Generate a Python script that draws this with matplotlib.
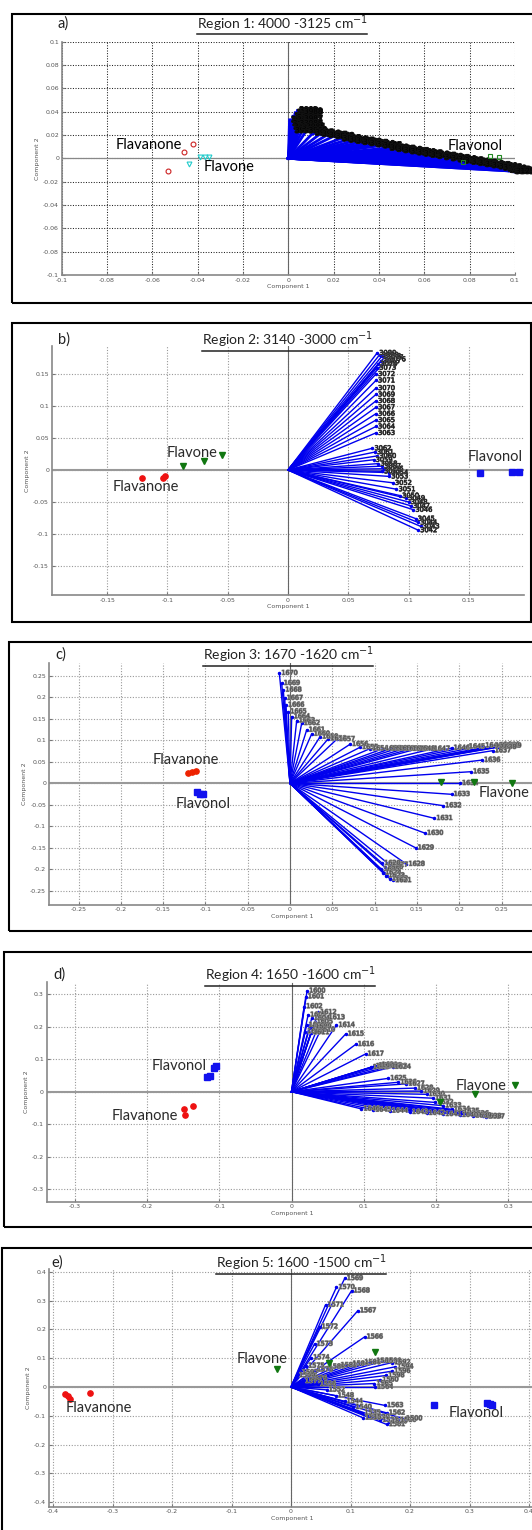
import matplotlib
matplotlib.use('Agg')
import matplotlib.pyplot as plt
import matplotlib.patheffects as pe
from matplotlib.patches import Rectangle
from matplotlib.lines import Line2D

W, H = 532, 1530

# ---------------- panel a : Region 1 ----------------
a_title = 'Region 1: 4000 -3125 cm$^{-1}$'
a_ticks = [-0.1, -0.08, -0.06, -0.04, -0.02, 0, 0.02, 0.04, 0.06, 0.08, 0.1]
a_ticklabels = ['-0.1', '-0.08', '-0.06', '-0.04', '-0.02', '0', '0.02', '0.04', '0.06', '0.08', '0.1']
a_flavanone_x = [-0.042, -0.046, -0.053]
a_flavanone_y = [0.012, 0.005, -0.011]
a_flavone_x = [-0.0437, -0.0389, -0.0369, -0.0351]
a_flavone_y = [-0.005, 0.001, 0.001, 0.001]
a_flavonol_x = [0.077, 0.089, 0.093]
a_flavonol_y = [-0.0034, 0.002, 0.0015]
a_load_x = [0.0005, 0.001, 0.0015, 0.002, 0.002, 0.003, 0.003, 0.004, 0.004, 0.005, 0.005, 0.006, 0.006, 0.006, 0.007,
            0.008, 0.011, 0.014, 0.017, 0.020, 0.023, 0.026, 0.029, 0.032, 0.035, 0.038, 0.041, 0.044, 0.047, 0.050,
            0.053, 0.056, 0.059, 0.062, 0.065, 0.068, 0.071, 0.074, 0.077, 0.080, 0.083, 0.086, 0.089, 0.092, 0.094,
            0.096, 0.097, 0.098, 0.099, 0.0995]
a_load_y = [0.033, 0.030, 0.027, 0.036, 0.024, 0.039, 0.033, 0.041, 0.030, 0.037, 0.027, 0.040, 0.034, 0.030, 0.027,
            0.024, 0.022, 0.021, 0.020, 0.019, 0.017, 0.016, 0.015, 0.014, 0.013, 0.012, 0.011, 0.009, 0.008, 0.007,
            0.006, 0.005, 0.004, 0.003, 0.002, 0.001, 0.000, -0.001, -0.002, -0.003, -0.004, -0.005, -0.006, -0.007, -0.008,
            -0.009, -0.010, -0.010, -0.011, -0.011]
a_load_lab = [3999, 3998, 3997, 3996, 3995, 3994, 3993, 3992, 3991, 3990, 3989, 3988, 3987, 3986, 3985,
              3960, 3935, 3910, 3885, 3860, 3835, 3810, 3785, 3760, 3735, 3710, 3685, 3660, 3635, 3610,
              3585, 3560, 3535, 3510, 3485, 3460, 3435, 3410, 3385, 3360, 3335, 3310, 3285, 3260, 3235,
              3210, 3185, 3160, 3140, 3125]
a_names = ['Flavanone', 'Flavone', 'Flavonol']
a_names_x = [-0.0615, -0.0262, 0.0824]
a_names_y = [0.0114, -0.0072, 0.0108]

# ---------------- panel b : Region 2 ----------------
b_title = 'Region 2: 3140 -3000 cm$^{-1}$'
b_ticks = [-0.15, -0.1, -0.05, 0, 0.05, 0.1, 0.15]
b_ticklabels = ['-0.15', '-0.1', '-0.05', '0', '0.05', '0.1', '0.15']
b_flavanone_x = [-0.121, -0.104, -0.102]
b_flavanone_y = [-0.013, -0.012, -0.009]
b_flavone_x = [-0.0874, -0.0698, -0.055]
b_flavone_y = [0.0067, 0.014, 0.023]
b_flavonol_x = [0.1597, 0.1855, 0.1916]
b_flavonol_y = [-0.005, -0.0026, -0.0026]
b_load_x = [0.074, 0.076, 0.078, 0.080, 0.082, 0.077, 0.075, 0.074,
            0.073, 0.073, 0.073, 0.073, 0.073, 0.073, 0.073, 0.073, 0.073, 0.073,
            0.070, 0.072, 0.074, 0.071, 0.075, 0.078, 0.080, 0.078, 0.084,
            0.084, 0.087, 0.090, 0.093, 0.098, 0.100, 0.102, 0.104, 0.106, 0.108, 0.110, 0.108]
b_load_y = [0.183, 0.180, 0.178, 0.176, 0.173, 0.170, 0.166, 0.160,
            0.150, 0.140, 0.128, 0.118, 0.108, 0.098, 0.088, 0.078, 0.068, 0.058,
            0.034, 0.028, 0.022, 0.016, 0.010, 0.006, 0.002, -0.002, -0.004,
            -0.010, -0.020, -0.030, -0.040, -0.044, -0.050, -0.056, -0.062, -0.076, -0.082, -0.088, -0.094]
b_load_lab = [3080, 3079, 3078, 3077, 3076, 3075, 3074, 3073,
              3072, 3071, 3070, 3069, 3068, 3067, 3066, 3065, 3064, 3063,
              3062, 3061, 3060, 3059, 3058, 3057, 3056, 3055, 3054,
              3053, 3052, 3051, 3050, 3049, 3048, 3047, 3046, 3045, 3044, 3043, 3042]
b_names = ['Flavone', 'Flavanone', 'Flavonol']
b_names_x = [-0.0796, -0.118, 0.1715]
b_names_y = [0.027, -0.026, 0.020]

# ---------------- panel c : Region 3 ----------------
c_title = 'Region 3: 1670 -1620 cm$^{-1}$'
c_ticks = [-0.25, -0.2, -0.15, -0.1, -0.05, 0, 0.05, 0.1, 0.15, 0.2, 0.25]
c_ticklabels = ['-0.25', '-0.2', '-0.15', '-0.1', '-0.05', '0', '0.05', '0.1', '0.15', '0.2', '0.25']
c_flavanone_x = [-0.121, -0.116, -0.111]
c_flavanone_y = [0.024, 0.026, 0.028]
c_flavone_x = [0.179, 0.218, 0.262]
c_flavone_y = [0.004, 0.004, 0.0]
c_flavonol_x = [-0.110, -0.106, -0.103]
c_flavonol_y = [-0.021, -0.024, -0.026]
c_load_x = [-0.0126, -0.0098, -0.0079, -0.0063, -0.0047, -0.002, 0.002, 0.0079, 0.0138, 0.0197,
            0.0256, 0.0355, 0.0453, 0.0552, 0.0709, 0.0827, 0.0946, 0.110, 0.118, 0.126,
            0.134, 0.142, 0.150, 0.1675, 0.191, 0.209, 0.2285, 0.240, 0.245, 0.248,
            0.250, 0.252, 0.246, 0.2396, 0.227, 0.214, 0.201, 0.191, 0.181, 0.1706,
            0.1596, 0.1485, 0.1377, 0.118, 0.112, 0.108, 0.110, 0.114, 0.118, 0.122, 0.109]
c_load_y = [0.256, 0.2326, 0.217, 0.198, 0.182, 0.1666, 0.155, 0.1457, 0.1395, 0.124,
            0.1147, 0.108, 0.1038, 0.1023, 0.0907, 0.0837, 0.0806, 0.0806, 0.080, 0.0806,
            0.080, 0.0798, 0.080, 0.0798, 0.082, 0.085, 0.0875, 0.087, 0.088, 0.0868,
            0.089, 0.087, 0.084, 0.0759, 0.054, 0.027, 0.0, -0.0256, -0.052, -0.0814,
            -0.116, -0.150, -0.188, -0.190, -0.195, -0.200, -0.208, -0.215, -0.222, -0.226, -0.186]
c_load_lab = [1670, 1669, 1668, 1667, 1666, 1665, 1664, 1663, 1662, 1661,
              1660, 1659, 1658, 1657, 1656, 1655, 1654, 1653, 1652, 1651,
              1650, 1649, 1648, 1647, 1646, 1645, 1644, 1643, 1642, 1641,
              1640, 1639, 1638, 1637, 1636, 1635, 1634, 1633, 1632, 1631,
              1630, 1629, 1628, 1627, 1626, 1625, 1624, 1623, 1622, 1621, 1620]
c_names = ['Flavanone', 'Flavonol', 'Flavone']
c_names_x = [-0.1235, -0.103, 0.253]
c_names_y = [0.054, -0.048, -0.023]

# ---------------- panel d : Region 4 ----------------
d_title = 'Region 4: 1650 -1600 cm$^{-1}$'
d_ticks = [-0.3, -0.2, -0.1, 0, 0.1, 0.2, 0.3]
d_ticklabels = ['-0.3', '-0.2', '-0.1', '0', '0.1', '0.2', '0.3']
d_flavanone_x = [-0.137, -0.149, -0.147]
d_flavanone_y = [-0.044, -0.053, -0.072]
d_flavone_x = [0.2053, 0.254, 0.309]
d_flavone_y = [-0.031, -0.008, 0.021]
d_flavonol_x = [-0.117, -0.113, -0.108, -0.105]
d_flavonol_y = [0.046, 0.047, 0.072, 0.078]
d_load_x = [0.0216, 0.0198, 0.0175, 0.023, 0.028, 0.032, 0.021, 0.025, 0.019, 0.030, 0.035, 0.027,
            0.037, 0.0485, 0.0623, 0.075, 0.089, 0.1025,
            0.110, 0.114, 0.118, 0.122, 0.128, 0.135, 0.140,
            0.134, 0.148, 0.159, 0.171, 0.180, 0.187, 0.196, 0.199, 0.210, 0.222, 0.235, 0.248,
            0.270, 0.2655, 0.2516, 0.233, 0.210, 0.187, 0.164, 0.136, 0.113, 0.0969]
d_load_y = [0.310, 0.2925, 0.262, 0.236, 0.226, 0.215, 0.205, 0.195, 0.185, 0.200, 0.190, 0.182,
            0.244, 0.228, 0.205, 0.1775, 0.1457, 0.116,
            0.075, 0.078, 0.080, 0.082, 0.080, 0.078, 0.076,
            0.041, 0.029, 0.024, 0.011, 0.002, -0.008, -0.020, -0.033, -0.043, -0.054, -0.060, -0.068,
            -0.077, -0.076, -0.074, -0.072, -0.0695, -0.066, -0.063, -0.059, -0.056, -0.053]
d_load_lab = [1600, 1601, 1602, 1603, 1604, 1605, 1606, 1607, 1608, 1609, 1610, 1611,
              1612, 1613, 1614, 1615, 1616, 1617,
              1618, 1619, 1620, 1621, 1622, 1623, 1624,
              1625, 1626, 1627, 1628, 1629, 1630, 1631, 1632, 1633, 1634, 1635, 1636,
              1637, 1638, 1639, 1640, 1641, 1642, 1643, 1644, 1645, 1646]
d_names = ['Flavonol', 'Flavanone', 'Flavone']
d_names_x = [-0.156, -0.203, 0.263]
d_names_y = [0.079, -0.074, 0.018]

# ---------------- panel e : Region 5 ----------------
e_title = 'Region 5: 1600 -1500 cm$^{-1}$'
e_ticks = [-0.4, -0.3, -0.2, -0.1, 0, 0.1, 0.2, 0.3, 0.4]
e_ticklabels = ['-0.4', '-0.3', '-0.2', '-0.1', '0', '0.1', '0.2', '0.3', '0.4']
e_flavanone_x = [-0.379, -0.375, -0.372, -0.337]
e_flavanone_y = [-0.025, -0.031, -0.043, -0.020]
e_flavone_x = [-0.024, 0.141, 0.064]
e_flavone_y = [0.061, 0.122, 0.085]
e_flavonol_x = [0.24, 0.329, 0.334, 0.338]
e_flavonol_y = [-0.0625, -0.054, -0.058, -0.0625]
e_load_x = [0.0903, 0.0763, 0.1017, 0.058, 0.1124, 0.048, 0.1237, 0.0395, 0.0339, 0.0254,
            0.04, 0.06, 0.08, 0.10, 0.12, 0.14, 0.155, 0.17, 0.175, 0.17, 0.16, 0.15, 0.14, 0.141,
            0.158, 0.161, 0.161, 0.121,
            0.01, 0.015, 0.02, 0.03, 0.045, 0.06, 0.075, 0.09, 0.105, 0.12, 0.135, 0.15, 0.165, 0.18, 0.19]
e_load_y = [0.377, 0.346, 0.334, 0.285, 0.265, 0.209, 0.174, 0.149, 0.102, 0.073,
            0.06, 0.07, 0.075, 0.08, 0.085, 0.09, 0.09, 0.085, 0.07, 0.055, 0.04, 0.025, 0.012, 0.0,
            -0.064, -0.09, -0.13, -0.107,
            0.04, 0.05, 0.02, 0.03, 0.01, -0.01, -0.03, -0.05, -0.07, -0.09, -0.105, -0.115, -0.12, -0.115, -0.11]
e_load_lab = [1569, 1570, 1568, 1571, 1567, 1572, 1566, 1573, 1574, 1575,
              1578, 1580, 1582, 1584, 1586, 1588, 1590, 1592, 1594, 1596, 1598, 1560, 1565, 1564,
              1563, 1562, 1561, 1558,
              1599, 1597, 1577, 1576, 1556, 1552, 1548, 1544, 1540, 1535, 1530, 1525, 1520, 1510, 1500]
e_names = ['Flavanone', 'Flavone', 'Flavonol']
e_names_x = [-0.323, -0.049, 0.311]
e_names_y = [-0.072, 0.096, -0.089]

fig = plt.figure(figsize=(W / 100, H / 100), dpi=100)
fig.patch.set_facecolor('white')
titles = []


def draw_panel(letter, title, frame, scale, xlim, ylim, ticks, ticklabels,
               groups, load, names, title_pos, letter_x, style):
    # outer black frame (pixel coords, top-left origin)
    fl, ft, fr, fb = frame
    fig.add_artist(Rectangle((fl / W, 1 - fb / H), (fr - fl) / W, (fb - ft) / H,
                             transform=fig.transFigure, fill=False, ec='black', lw=1.5))
    cx, sx, cy, sy = scale
    left, right = cx + xlim[0] * sx, cx + xlim[1] * sx
    top, bottom = cy - ylim[1] * sy, cy - ylim[0] * sy
    ax = fig.add_axes([left / W, 1 - bottom / H, (right - left) / W, (bottom - top) / H])
    ax.set_xlim(xlim)
    ax.set_ylim(ylim)
    ax.set_xticks(ticks)
    ax.set_xticklabels(ticklabels)
    ax.set_yticks(ticks)
    ax.set_yticklabels(ticklabels)
    ax.tick_params(labelsize=4.5, labelcolor='#555555', color='#777777', length=2,
                   direction='in', pad=2)
    for s in ['top', 'right']:
        ax.spines[s].set_visible(False)
    for s in ['left', 'bottom']:
        ax.spines[s].set_color('#888888')
        ax.spines[s].set_linewidth(1.2)
    if style == 'a':
        ax.grid(True, ls=(0, (1, 1.5)), color='#222222', lw=0.75)
    else:
        ax.grid(True, ls=(0, (1, 1.5)), color='#999999', lw=0.8)
    ax.set_axisbelow(True)
    ax.axhline(0, color='#999999' if style != 'a' else '#888888', lw=1.5 if style != 'a' else 0.9, zorder=1)
    ax.axvline(0, color='#666666', lw=0.8, zorder=1)
    ax.set_xlabel('Component 1', fontsize=4.5, color='#555555', labelpad=1)
    ax.set_ylabel('Component 2', fontsize=4.5, color='#555555', labelpad=2)

    lx, ly, llab = load
    lw = 2.0 if style == 'a' else 1.0
    for x, y in zip(lx, ly):
        ax.plot([0, x], [0, y], color='#0000ee', lw=lw, zorder=2)
    ax.plot(lx, ly, '.', color='#0000ee', ms=3, zorder=3)
    if style == 'a':
        lab_col, stroke, lab_fs, slw = 'black', '#111111', 5.2, 1.6
    elif style == 'b':
        lab_col, stroke, lab_fs, slw = '#111111', '#555555', 4.8, 0.6
    else:
        lab_col, stroke, lab_fs, slw = '#444444', '#8a8a8a', 4.6, 0.9
    for x, y, t in zip(lx, ly, llab):
        ax.annotate(str(t), (x, y), xytext=(1.5, 0), textcoords='offset points',
                    fontsize=lab_fs, color=lab_col, ha='left', va='center', zorder=4,
                    path_effects=[pe.withStroke(linewidth=slw, foreground=stroke)])

    for gx, gy, mk, col in groups:
        if style == 'a':
            ax.plot(gx, gy, mk, ms=3.5, mfc='none', mec=col, mew=0.8, ls='none', zorder=5)
        else:
            ax.plot(gx, gy, mk, ms=3.8, color=col, ls='none', zorder=5)

    ncol = 'black' if style == 'a' else '#2a2a2a'
    nx, ny, nt = names
    for x, y, t in zip(nx, ny, nt):
        ax.text(x, y, t, fontsize=10.5, color=ncol, ha='center', va='center',
                family='Lato', zorder=6)

    tx, ty = title_pos
    t = fig.text(tx / W, 1 - ty / H, title, ha='center', va='center', fontsize=10,
                 family='Lato', color='#222222')
    titles.append(t)
    fig.text(letter_x / W, 1 - ty / H, letter, ha='left', va='center', fontsize=10.5,
             family='Lato', color='#222222')


draw_panel('a)', a_title, (12, 13.5, 545, 303), (288.4, 2266, 158.3, 1165), (-0.1, 0.1), (-0.1, 0.1),
           a_ticks, a_ticklabels,
           [(a_flavanone_x, a_flavanone_y, 'o', '#cc2222'), (a_flavone_x, a_flavone_y, 'v', '#22cccc'),
            (a_flavonol_x, a_flavonol_y, 's', '#228822')],
           (a_load_x, a_load_y, a_load_lab), (a_names_x, a_names_y, a_names), (282, 23.3), 58, 'a')

draw_panel('b)', b_title, (12, 323.3, 530.5, 621.7), (288, 1205, 470, 640), (-0.196, 0.196), (-0.195, 0.193),
           b_ticks, b_ticklabels,
           [(b_flavanone_x, b_flavanone_y, 'o', '#ee1111'), (b_flavone_x, b_flavone_y, 'v', '#117711'),
            (b_flavonol_x, b_flavonol_y, 's', '#1111ee')],
           (b_load_x, b_load_y, b_load_lab), (b_names_x, b_names_y, b_names), (287, 340), 58, 'b')

draw_panel('c)', c_title, (8.5, 641.7, 545, 931), (290, 846, 783.3, 430), (-0.285, 0.29), (-0.282, 0.28),
           c_ticks, c_ticklabels,
           [(c_flavanone_x, c_flavanone_y, 'o', '#ee2200'), (c_flavone_x, c_flavone_y, 'v', '#117711'),
            (c_flavonol_x, c_flavonol_y, 's', '#1111ee')],
           (c_load_x, c_load_y, c_load_lab), (c_names_x, c_names_y, c_names), (288, 655), 55, 'c')

draw_panel('d)', d_title, (4, 952.3, 545, 1226.7), (291.5, 722, 1091.7, 325), (-0.339, 0.34), (-0.338, 0.336),
           d_ticks, d_ticklabels,
           [(d_flavanone_x, d_flavanone_y, 'o', '#ee1111'), (d_flavone_x, d_flavone_y, 'v', '#117711'),
            (d_flavonol_x, d_flavonol_y, 's', '#1111ee')],
           (d_load_x, d_load_y, d_load_lab), (d_names_x, d_names_y, d_names), (290, 975), 53.5, 'd')

draw_panel('e)', e_title, (1.5, 1248.3, 545, 1545), (291, 595, 1387, 288), (-0.407, 0.41), (-0.415, 0.41),
           e_ticks, e_ticklabels,
           [(e_flavanone_x, e_flavanone_y, 'o', '#ee1111'), (e_flavone_x, e_flavone_y, 'v', '#117711'),
            (e_flavonol_x, e_flavonol_y, 's', '#1111ee')],
           (e_load_x, e_load_y, e_load_lab), (e_names_x, e_names_y, e_names), (301, 1262.7), 51, 'e')

# underline the region titles
fig.canvas.draw()
rend = fig.canvas.get_renderer()
for t in titles:
    bb = t.get_window_extent(rend)
    yy = (bb.y0 - 0.5) / H
    fig.add_artist(Line2D([bb.x0 / W, bb.x1 / W], [yy, yy], transform=fig.transFigure,
                          color='#222222', lw=1.1))

fig.savefig('out.png', dpi=100, facecolor='white')
